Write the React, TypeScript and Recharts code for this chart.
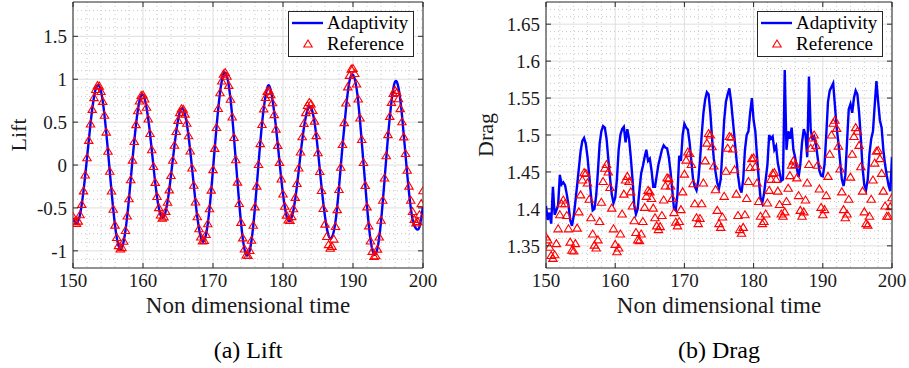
import React from 'react'
import { ComposedChart, Line, Scatter, XAxis, YAxis, CartesianGrid, ReferenceArea } from 'recharts'

const T_START = 150
const REF_STEP = 0.25
const LIFT_LINE_STEP = 0.5
const DRAG_LINE_STEP = 0.25

const timeTicks = [150, 160, 170, 180, 190, 200]
const timeMinor = [152, 154, 156, 158, 162, 164, 166, 168, 172, 174, 176, 178, 182, 184, 186, 188, 192, 194, 196, 198]

const liftTicks = [-1, -0.5, 0, 0.5, 1, 1.5]
const liftMinor = [-1.1, -0.9, -0.8, -0.7, -0.6, -0.4, -0.3, -0.2, -0.1, 0.1, 0.2, 0.3, 0.4, 0.6, 0.7, 0.8, 0.9, 1.1, 1.2, 1.3, 1.4, 1.6, 1.7, 1.8]
const dragTicks = [1.35, 1.4, 1.45, 1.5, 1.55, 1.6, 1.65]
const dragMinor = [1.33, 1.34, 1.36, 1.37, 1.38, 1.39, 1.41, 1.42, 1.43, 1.44, 1.46, 1.47, 1.48, 1.49, 1.51, 1.52, 1.53, 1.54, 1.56, 1.57, 1.58, 1.59, 1.61, 1.62, 1.63, 1.64, 1.66, 1.67]

// reference lift, every 0.25 from t = 150
const liftReference = [
  -0.60, -0.66, -0.68, -0.654,
  -0.579, -0.459, -0.301, -0.117,
  0.084, 0.287, 0.479, 0.649,
  0.786, 0.881, 0.926, 0.920,
  0.857, 0.742, 0.580, 0.384,
  0.161, -0.072, -0.302, -0.516,
  -0.700, -0.844, -0.939, -0.979,
  -0.962, -0.888, -0.763, -0.594,
  -0.393, -0.171, 0.057, 0.275,
  0.471, 0.632, 0.747, 0.810,
  0.816, 0.769, 0.673, 0.536,
  0.367, 0.178, -0.017, -0.202,
  -0.366, -0.496, -0.582, -0.619,
  -0.604, -0.540, -0.433, -0.290,
  -0.122, 0.056, 0.231, 0.391,
  0.520, 0.611, 0.656, 0.650,
  0.593, 0.487, 0.341, 0.163,
  -0.034, -0.236, -0.430, -0.602,
  -0.742, -0.839, -0.886, -0.879,
  -0.810, -0.684, -0.509, -0.293,
  -0.054, 0.194, 0.437, 0.658,
  0.843, 0.979, 1.060, 1.079,
  1.034, 0.928, 0.767, 0.560,
  0.320, 0.062, -0.199, -0.448,
  -0.668, -0.849, -0.979, -1.048,
  -1.055, -0.996, -0.876, -0.702,
  -0.488, -0.246, 0.006, 0.250,
  0.472, 0.655, 0.787, 0.858,
  0.866, 0.820, 0.725, 0.588,
  0.419, 0.229, 0.031, -0.162,
  -0.337, -0.481, -0.584, -0.641,
  -0.646, -0.601, -0.509, -0.377,
  -0.216, -0.035, 0.152, 0.329,
  0.486, 0.611, 0.694, 0.729,
  0.711, 0.637, 0.512, 0.343,
  0.143, -0.076, -0.297, -0.506,
  -0.689, -0.833, -0.928, -0.969,
  -0.948, -0.863, -0.717, -0.520,
  -0.285, -0.026, 0.240, 0.494,
  0.723, 0.911, 1.045, 1.118,
  1.125, 1.066, 0.945, 0.769,
  0.548, 0.297, 0.030, -0.237,
  -0.488, -0.709, -0.885, -1.006,
  -1.065, -1.057, -0.980, -0.839,
  -0.644, -0.410, -0.152, 0.109,
  0.354, 0.567, 0.730, 0.835,
  0.870, 0.845, 0.772, 0.657,
  0.505, 0.328, 0.134, -0.061,
  -0.246, -0.410, -0.541, -0.633,
  -0.676, -0.66, -0.58, -0.45,
  -0.30,
]

// adaptivity lift, every 0.5 from t = 150
const liftAdaptivity = [
  -0.62, -0.68, -0.58, -0.30, 0.08, 0.48, 0.79, 0.93, 0.86, 0.58,
  0.16, -0.30, -0.70, -0.94, -0.96, -0.76, -0.39, 0.06, 0.47, 0.75,
  0.82, 0.67, 0.37, -0.02, -0.37, -0.58, -0.60, -0.43, -0.12, 0.23,
  0.52, 0.66, 0.59, 0.34, -0.03, -0.43, -0.74, -0.89, -0.81, -0.51,
  -0.05, 0.44, 0.84, 1.06, 1.03, 0.77, 0.32, -0.20, -0.67, -0.98,
  -1.05, -0.88, -0.49, 0.01, 0.48, 0.80, 0.93, 0.76, 0.44, 0.04,
  -0.34, -0.59, -0.65, -0.52, -0.24, 0.12, 0.44, 0.64, 0.67, 0.50,
  0.16, -0.25, -0.60, -0.82, -0.84, -0.66, -0.26, 0.22, 0.66, 0.98,
  1.05, 0.90, 0.52, 0.02, -0.48, -0.87, -1.04, -0.97, -0.66, -0.18,
  0.33, 0.74, 0.97, 0.90, 0.58, 0.12, -0.32, -0.63, -0.74, -0.72,
  -0.48,
]

// reference drag, every 0.25 from t = 150
const dragReference = [
  1.362, 1.358, 1.348, 1.337,
  1.333, 1.338, 1.353, 1.373,
  1.392, 1.407, 1.412, 1.407,
  1.391, 1.373, 1.355, 1.344,
  1.343, 1.353, 1.374, 1.396,
  1.419, 1.439, 1.449, 1.448,
  1.435, 1.413, 1.388, 1.366,
  1.351, 1.347, 1.358, 1.383,
  1.409, 1.437, 1.455, 1.460,
  1.450, 1.429, 1.401, 1.373,
  1.352, 1.342, 1.347, 1.366,
  1.393, 1.420, 1.439, 1.444,
  1.437, 1.423, 1.404, 1.384,
  1.368, 1.358, 1.357, 1.366,
  1.383, 1.402, 1.417, 1.425,
  1.423, 1.414, 1.401, 1.388,
  1.377, 1.372, 1.376, 1.391,
  1.412, 1.431, 1.442, 1.441,
  1.431, 1.414, 1.395, 1.382,
  1.377, 1.383, 1.399, 1.423,
  1.447, 1.466, 1.477, 1.475,
  1.460, 1.434, 1.407, 1.388,
  1.380, 1.387, 1.407, 1.435,
  1.465, 1.489, 1.502, 1.500,
  1.484, 1.458, 1.426, 1.398,
  1.380, 1.375, 1.389, 1.417,
  1.451, 1.482, 1.498, 1.497,
  1.481, 1.453, 1.420, 1.391,
  1.372, 1.367, 1.375, 1.392,
  1.414, 1.437, 1.456, 1.468,
  1.469, 1.457, 1.435, 1.410,
  1.390, 1.380, 1.383, 1.393,
  1.408, 1.425, 1.440, 1.448,
  1.449, 1.440, 1.424, 1.406,
  1.393, 1.390, 1.396, 1.410,
  1.428, 1.445, 1.459, 1.465,
  1.460, 1.442, 1.418, 1.398,
  1.390, 1.396, 1.412, 1.435,
  1.460, 1.482, 1.496, 1.500,
  1.486, 1.459, 1.427, 1.402,
  1.392, 1.399, 1.418, 1.444,
  1.474, 1.500, 1.516, 1.520,
  1.509, 1.485, 1.454, 1.423,
  1.399, 1.388, 1.393, 1.413,
  1.443, 1.474, 1.498, 1.510,
  1.505, 1.486, 1.457, 1.424,
  1.396, 1.380, 1.378, 1.390,
  1.413, 1.439, 1.462, 1.478,
  1.479, 1.468, 1.448, 1.424,
  1.404, 1.390, 1.390, 1.403,
  1.415,
]

// adaptivity drag, every 0.25 from t = 150
const dragAdaptivity = [
  1.404, 1.385, 1.395, 1.380,
  1.430, 1.392, 1.398, 1.405,
  1.446, 1.433, 1.436, 1.432,
  1.420, 1.405, 1.385, 1.377,
  1.390, 1.410, 1.432, 1.455,
  1.478, 1.492, 1.496, 1.488,
  1.470, 1.445, 1.418, 1.398,
  1.400, 1.418, 1.450, 1.488,
  1.505, 1.512, 1.510, 1.495,
  1.468, 1.442, 1.420, 1.408,
  1.415, 1.440, 1.480, 1.500,
  1.508, 1.511, 1.490, 1.508,
  1.495, 1.470, 1.440, 1.405,
  1.393, 1.400, 1.425, 1.448,
  1.458, 1.470, 1.480, 1.465,
  1.468, 1.452, 1.430, 1.430,
  1.445, 1.460, 1.470, 1.480,
  1.486, 1.483, 1.482, 1.470,
  1.450, 1.425, 1.400, 1.398,
  1.420, 1.472, 1.465, 1.500,
  1.515, 1.510, 1.507, 1.490,
  1.465, 1.440, 1.430, 1.425,
  1.438, 1.465, 1.500, 1.530,
  1.548, 1.558, 1.555, 1.530,
  1.495, 1.468, 1.450, 1.435,
  1.428, 1.440, 1.480, 1.520,
  1.545, 1.555, 1.563, 1.545,
  1.520, 1.495, 1.470, 1.445,
  1.428, 1.422, 1.440, 1.480,
  1.500, 1.505, 1.530, 1.550,
  1.520, 1.505, 1.470, 1.440,
  1.415, 1.408, 1.420, 1.440,
  1.460, 1.500, 1.495, 1.498,
  1.480, 1.485, 1.462, 1.450,
  1.438, 1.440, 1.588, 1.480,
  1.505, 1.495, 1.510, 1.480,
  1.470, 1.455, 1.443, 1.460,
  1.490, 1.508, 1.500, 1.470,
  1.579, 1.507, 1.495, 1.498,
  1.488, 1.470, 1.452, 1.445,
  1.444, 1.460, 1.500, 1.545,
  1.560, 1.565, 1.570, 1.540,
  1.510, 1.490, 1.465, 1.440,
  1.431, 1.445, 1.490, 1.535,
  1.542, 1.530, 1.550, 1.560,
  1.555, 1.530, 1.495, 1.455,
  1.432, 1.426, 1.440, 1.475,
  1.495, 1.505, 1.540, 1.573,
  1.545, 1.520, 1.510, 1.480,
  1.460, 1.445, 1.432, 1.424,
  1.470,
]

const toPoints = (values: number[], step: number) => values.map((v, i) => ({ t: T_START + i * step, v }))

const FONT = "'Liberation Serif', 'DejaVu Serif', serif"
const INK = '#262626'
const BLUE = '#0000ff'
const RED = '#ff0000'
const CHART_H = 320
const Y_AXIS_W = 60
const X_AXIS_H = 30

const Tri = ({ cx, cy }: { cx: number; cy: number }) => (
  <polygon
    points={`${cx},${cy - 4} ${cx - 4.2},${cy + 3} ${cx + 4.2},${cy + 3}`}
    fill="none"
    stroke={RED}
    strokeWidth={1.1}
  />
)

interface PanelProps {
  left: number
  width: number
  margin: { top: number; right: number; bottom: number; left: number }
  reference: { t: number; v: number }[]
  adaptivity: { t: number; v: number }[]
  curve: 'natural' | 'linear'
  domain: [number, number]
  ticks: number[]
  minor: number[]
  yLabel: string
  yLabelX: number
  caption: string
  legendLeft: number
}

function Panel({ left, width, margin, reference, adaptivity, curve, domain, ticks, minor, yLabel, yLabelX, caption, legendLeft }: PanelProps) {
  const plotLeft = margin.left + Y_AXIS_W
  const plotRight = width - margin.right
  const plotTop = margin.top
  const plotBottom = CHART_H - margin.bottom - X_AXIS_H
  const mid = (plotLeft + plotRight) / 2
  const txt = { fontFamily: FONT }

  const xTick = (p: any) => (
    <g>
      <line x1={p.x} x2={p.x} y1={plotBottom} y2={plotBottom - 5} stroke={INK} />
      <line x1={p.x} x2={p.x} y1={plotTop} y2={plotTop + 5} stroke={INK} />
      <text x={p.x} y={p.y} dy="0.71em" textAnchor="middle" fontSize={19} style={txt} fill="#1a1a1a">
        {String(p.payload.value)}
      </text>
    </g>
  )

  const yTick = (p: any) => (
    <g>
      <line x1={plotLeft} x2={plotLeft + 5} y1={p.y} y2={p.y} stroke={INK} />
      <line x1={plotRight - 5} x2={plotRight} y1={p.y} y2={p.y} stroke={INK} />
      <text x={p.x} y={p.y} dy="0.355em" textAnchor="end" fontSize={19} style={txt} fill="#1a1a1a">
        {String(p.payload.value)}
      </text>
    </g>
  )

  return (
    <div style={{ position: 'absolute', left, top: 0, width, height: 368 }}>
      <ComposedChart width={width} height={CHART_H} margin={margin} style={txt}>
        <CartesianGrid stroke="#c8c8c8" strokeDasharray="1 3" horizontalValues={minor} verticalValues={timeMinor} />
        <CartesianGrid stroke="#dedede" horizontalValues={ticks} verticalValues={timeTicks} />
        <XAxis
          type="number"
          dataKey="t"
          domain={[150, 200]}
          ticks={timeTicks}
          interval={0}
          allowDataOverflow
          height={X_AXIS_H}
          axisLine={false}
          tickLine={false}
          tickSize={0}
          tickMargin={6}
          tick={xTick}
        />
        <YAxis
          type="number"
          domain={domain}
          ticks={ticks}
          interval={0}
          allowDataOverflow
          width={Y_AXIS_W}
          axisLine={false}
          tickLine={false}
          tickSize={0}
          tickMargin={6}
          tick={yTick}
        />
        <Line
          data={adaptivity}
          dataKey="v"
          type={curve}
          stroke={BLUE}
          strokeWidth={2.4}
          dot={false}
          activeDot={false}
          isAnimationActive={false}
        />
        <Scatter
          data={reference}
          dataKey="v"
          shape={(p: any) => <Tri cx={p.cx} cy={p.cy} />}
          isAnimationActive={false}
        />
        <ReferenceArea
          x1={150}
          x2={200}
          y1={domain[0]}
          y2={domain[1]}
          fill="none"
          fillOpacity={0}
          stroke={INK}
          strokeWidth={1}
          ifOverflow="visible"
        />
      </ComposedChart>
      <svg width={width} height={368} style={{ position: 'absolute', left: 0, top: 0, pointerEvents: 'none' }}>
        <text x={mid} y={313} textAnchor="middle" fontSize={23} style={txt} fill="#1a1a1a">
          Non dimensional time
        </text>
        <text
          x={yLabelX}
          y={135}
          transform={`rotate(-90 ${yLabelX} 135)`}
          textAnchor="middle"
          fontSize={22}
          style={txt}
          fill="#1a1a1a"
        >
          {yLabel}
        </text>
        <text x={mid} y={358} textAnchor="middle" fontSize={24} style={txt} fill="#000">
          {caption}
        </text>
        <g transform={`translate(${legendLeft}, 11)`}>
          <rect x={0.5} y={0.5} width={125} height={45} fill="#fff" stroke={INK} strokeWidth={1} />
          <line x1={4} x2={35} y1={12} y2={12} stroke={BLUE} strokeWidth={2.4} />
          <text x={39} y={18} fontSize={19} style={txt} fill="#000">Adaptivity</text>
          <Tri cx={20} cy={33} />
          <text x={39} y={39} fontSize={19} style={txt} fill="#000">Reference</text>
        </g>
      </svg>
    </div>
  )
}

export default function App() {
  return (
    <div style={{ position: 'absolute', left: 0, top: 0, width: 909, height: 368, background: '#fff', overflow: 'hidden', fontFamily: FONT }}>
      <Panel
        left={0}
        width={454}
        margin={{ top: 2, right: 31, bottom: 22, left: 13 }}
        reference={toPoints(liftReference, REF_STEP)}
        adaptivity={toPoints(liftAdaptivity, LIFT_LINE_STEP)}
        curve="natural"
        domain={[-1.2, 1.9]}
        ticks={liftTicks}
        minor={liftMinor}
        yLabel="Lift"
        yLabelX={26}
        caption="(a) Lift"
        legendLeft={288}
      />
      <Panel
        left={454}
        width={455}
        margin={{ top: 2, right: 17, bottom: 22, left: 32 }}
        reference={toPoints(dragReference, REF_STEP)}
        adaptivity={toPoints(dragAdaptivity, DRAG_LINE_STEP)}
        curve="linear"
        domain={[1.32, 1.68]}
        ticks={dragTicks}
        minor={dragMinor}
        yLabel="Drag"
        yLabelX={39}
        caption="(b) Drag"
        legendLeft={303}
      />
    </div>
  )
}
